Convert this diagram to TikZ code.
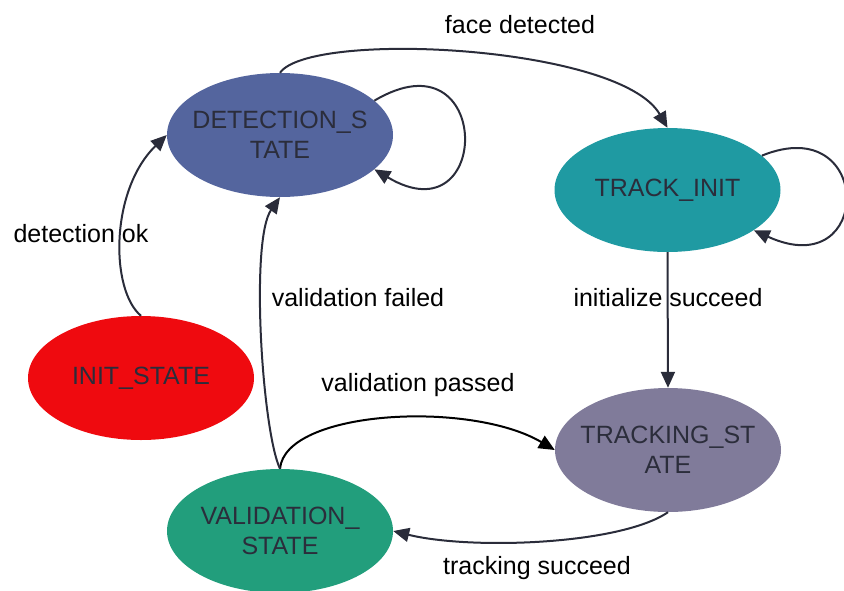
\documentclass[tikz,border=0pt]{standalone}
\usepackage{fontspec}
\setmainfont{Liberation Sans}
\usetikzlibrary{shapes.geometric,arrows.meta}
\definecolor{detcol}{HTML}{54659E}
\definecolor{tricol}{HTML}{1F9AA2}
\definecolor{inicol}{HTML}{EF0A0F}
\definecolor{trkcol}{HTML}{807B9A}
\definecolor{valcol}{HTML}{229E7C}
\definecolor{nodetext}{HTML}{2B2D3B}
\definecolor{edgecol}{HTML}{2A2C3A}
\tikzset{
  state/.style={ellipse, draw=none, minimum width=226pt, minimum height=124pt, inner sep=0pt},
  statetext/.style={text=nodetext, align=center, inner sep=0pt,
    font=\fontsize{25}{30}\selectfont},
  edge/.style={draw=edgecol, line width=2pt, -{Triangle[length=16pt,width=14pt]}},
  elabel/.style={text=black, inner sep=0pt, font=\fontsize{25}{30}\selectfont}
}
\begin{document}
\begin{tikzpicture}[x=1pt,y=-1pt]
\useasboundingbox (0,0) rectangle (844,590);

% states
\node[state, fill=detcol, label={[statetext]center:DETECTION\_S\\TATE}] (det) at (280,135) {};
\node[state, fill=tricol, label={[statetext]center:TRACK\_INIT}] (tri) at (667.5,190) {};
\node[state, fill=inicol, label={[statetext]center:INIT\_STATE}] (ini) at (141,378) {};
\node[state, fill=trkcol, label={[statetext]center:TRACKING\_ST\\ATE}] (trk) at (668,450) {};
\node[state, fill=valcol, label={[statetext]center:VALIDATION\_\\STATE}] (val) at (280,531) {};

% transitions
\draw[edge] (ini.north) .. controls (110,290) and (110,190) .. (det.west);
\draw[edge] (det.20) .. controls (493,30) and (493,240) .. (det.-20);
\draw[edge] (det.north) .. controls (310,30) and (620,45) .. (tri.north);
\draw[edge] (tri.20) .. controls (874,110) and (874,285) .. (tri.-25);
\draw[edge] (tri.south) -- (trk.north);
\draw[edge] (trk.south) .. controls (620,545) and (470,550) .. (val.east);
\draw[edge, draw=black] (val.north) .. controls (285,410) and (470,400) .. (trk.west);
\draw[edge] (val.north) .. controls (262,430) and (250,240) .. (det.south);

% transition labels
\node[elabel] (l1) at (81,234) {detection ok};
\node[elabel] (l2) at (520,25) {face detected};
\node[elabel] (l3) at (668,298) {initialize succeed};
\node[elabel] (l4) at (537,568) {tracking succeed};
\node[elabel] (l5) at (418,385) {validation passed};
\node[elabel] (l6) at (358,298) {validation failed};
\end{tikzpicture}
\end{document}
